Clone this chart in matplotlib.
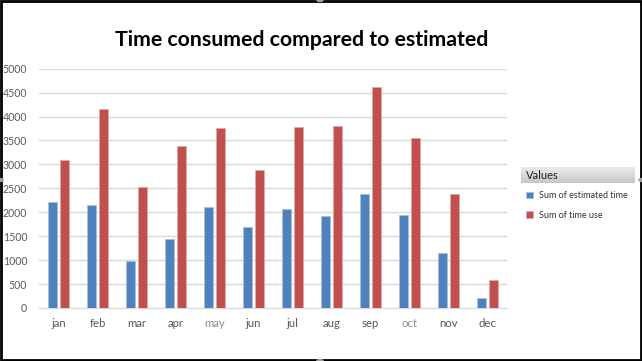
import numpy as np
import matplotlib
matplotlib.use('Agg')
import matplotlib.pyplot as plt
from matplotlib.patches import Rectangle, Circle

# chart data
months = ['jan', 'feb', 'mar', 'apr', 'may', 'jun', 'jul', 'aug', 'sep', 'oct', 'nov', 'dec']
estimated = [2210, 2160, 990, 1450, 2110, 1690, 2070, 1915, 2375, 1935, 1150, 200]
time_use = [3100, 4165, 2535, 3380, 3760, 2880, 3780, 3800, 4610, 3560, 2375, 585]
yticks = [0, 500, 1000, 1500, 2000, 2500, 3000, 3500, 4000, 4500, 5000]

plt.rcParams['font.family'] = ['Lato', 'DejaVu Sans']

fig = plt.figure(figsize=(6.42, 3.61), dpi=100)
fig.patch.set_facecolor('white')

# plot area
ax = fig.add_axes([39 / 642, 1 - 308 / 361, (507 - 39) / 642, (308 - 68.7) / 361])
x = np.arange(len(months))
w = 0.22
ax.bar(x - 0.15, estimated, width=w, color='#4F81BD', edgecolor='#A7C0DE', linewidth=0.6,
       label='Sum of estimated time', zorder=3)
ax.bar(x + 0.15, time_use, width=w, color='#C0504D', edgecolor='#E0A8A6', linewidth=0.6,
       label='Sum of time use', zorder=3)

ax.set_xlim(-0.5, len(months) - 0.5)
ax.set_ylim(0, 5000)
ax.set_yticks(yticks)
ax.set_xticks(x)
ax.set_xticklabels(months)
for lbl in ax.get_xticklabels():
    if lbl.get_text() in ('may', 'oct'):
        lbl.set_color('#8c8c8c')
    else:
        lbl.set_color('#595959')
ax.tick_params(axis='y', colors='#595959', labelsize=7.6, length=0, pad=8.5)
ax.tick_params(axis='x', labelsize=8.2, length=0, pad=7)
ax.grid(axis='y', color='#d9d9d9', linewidth=1, zorder=0)
for s in ['top', 'right', 'left']:
    ax.spines[s].set_visible(False)
ax.spines['bottom'].set_color('#d9d9d9')

fig.text(302 / 642, 1 - 40 / 361, 'Time consumed compared to estimated',
         ha='center', va='center', fontsize=15.3, fontweight='bold', color='black')

# legend header with gradient
hax = fig.add_axes([521 / 642, 1 - 183 / 361, 114 / 642, 16 / 361])
grad = np.linspace(0.93, 0.78, 32).reshape(-1, 1)
hax.imshow(grad, cmap='gray', vmin=0, vmax=1, aspect='auto', extent=[0, 1, 0, 1])
hax.set_axis_off()
hax.text(0.04, 0.45, 'Values', fontsize=8, va='center', ha='left', color='#222222')

handles, labels = ax.get_legend_handles_labels()
leg = fig.legend(handles, labels, loc='upper left', bbox_to_anchor=(518 / 642, 1 - 183 / 361),
                 frameon=False, fontsize=6.5, handlelength=0.8, handleheight=0.8,
                 labelspacing=1.2, handletextpad=0.6)
for t in leg.get_texts():
    t.set_color('#333333')

# border and selection handles
fig.patches.append(Rectangle((0.0015, 0.003), 0.997, 0.994, transform=fig.transFigure,
                             fill=False, edgecolor='black', linewidth=2))
for cx, cy in [(320 / 642, 1.0), (0.0, 1 - 180 / 361), (1.0, 1 - 180 / 361), (320 / 642, 0.0)]:
    fig.patches.append(Circle((cx, cy), 0.006, transform=fig.transFigure,
                              facecolor='#a0a0a0', edgecolor='none'))

fig.savefig('out.png', dpi=100)
